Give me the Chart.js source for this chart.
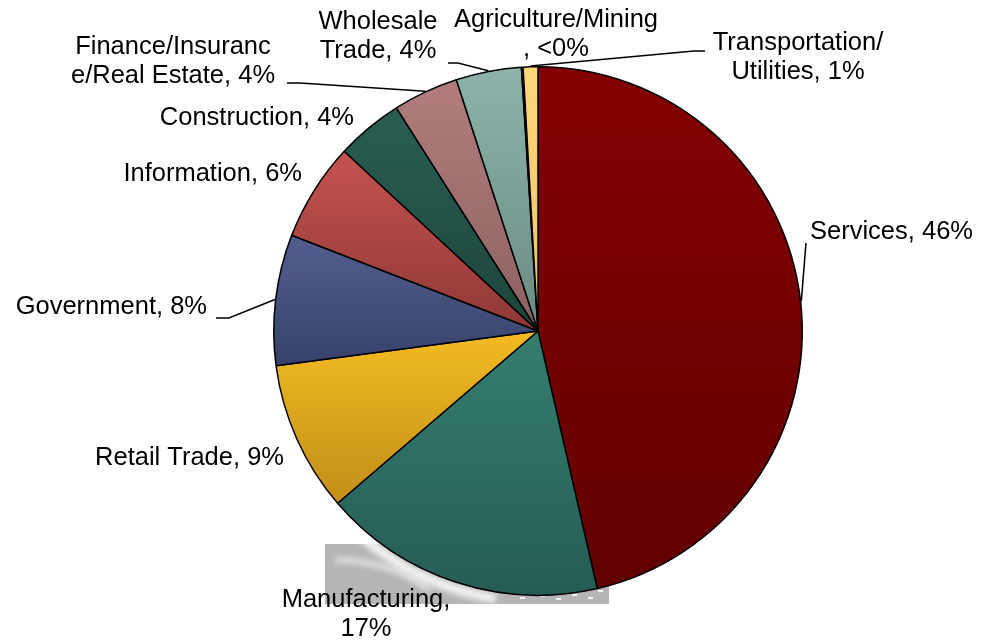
<!DOCTYPE html>
<html>
<head>
<meta charset="utf-8">
<script src="https://cdn.jsdelivr.net/npm/chart.js@4.4.1/dist/chart.umd.min.js"></script>
<style>
    body { margin: 0; background: #fff; }
    #pie_canvas { display: block; }
</style>
</head>
<body>
<canvas id="pie_canvas" width="982" height="641"></canvas>
<script>
// share of employment by sector (clockwise from 12 o'clock)
const categories = ['Services', 'Manufacturing', 'Retail Trade', 'Government', 'Information',
    'Construction', 'Finance/Insurance/Real Estate', 'Wholesale Trade', 'Agriculture/Mining',
    'Transportation/Utilities'];
const shares = [46.4, 17.3, 9.2, 8.0, 6.0, 4.1, 4.0, 4.0, 0.1, 0.9];
const pct_labels = ['46%', '17%', '9%', '8%', '6%', '4%', '4%', '4%', '<0%', '1%'];

// gradient top / bottom per slice
const top_colors = ['#840000', '#357e70', '#f2bb22', '#525f8f', '#c5534f', '#2a5e53', '#b27d7d', '#8db4aa', '#9bbb59', '#ffd67c'];
const bottom_colors = ['#620000', '#255c53', '#c28e18', '#37416a', '#8f3836', '#1c443c', '#8b6161', '#6a8a82', '#7a9a40', '#f2c466'];

// label placement: wrap = char index for line break, lead = where the leader line starts
const label_layout = [
    {x: 810, y: 232, align: 'left', lead: [[806, 243]]},
    {x: 366, y: 600, align: 'center', wrap: 15},
    {x: 284, y: 458, align: 'right'},
    {x: 207, y: 307, align: 'right', lead: [[216, 318], [229, 318]]},
    {x: 302, y: 174, align: 'right'},
    {x: 354, y: 118, align: 'right'},
    {x: 173, y: 47, align: 'center', wrap: 16, lead: [[287, 83], [300, 83]]},
    {x: 378, y: 22, align: 'center', wrap: 10, lead: [[448, 63], [458, 63]]},
    {x: 556, y: 20, align: 'center', wrap: 18},
    {x: 798, y: 43, align: 'center', wrap: 15, lead: [[705, 51], [694, 51]]}
];

function pie_geometry(chart) {
    const a = chart.chartArea;
    return {cx: (a.left + a.right) / 2, cy: (a.top + a.bottom) / 2,
        r: Math.min(a.right - a.left, a.bottom - a.top) / 2};
}

function slice_angles(i) {
    const total = shares.reduce((s, v) => s + v, 0);
    let start = 0;
    for (let k = 0; k < i; k++) start += shares[k];
    const a0 = -Math.PI / 2 + start / total * 2 * Math.PI;
    const a1 = a0 + shares[i] / total * 2 * Math.PI;
    return [a0, a1];
}

function slice_gradient(context) {
    const chart = context.chart;
    const i = context.dataIndex;
    if (!chart.chartArea || i === undefined) return top_colors[i || 0];
    const g = pie_geometry(chart);
    const [a0, a1] = slice_angles(i);
    let ys = [g.cy, g.cy + g.r * Math.sin(a0), g.cy + g.r * Math.sin(a1)];
    // include top / bottom extremes if the slice spans them
    [-Math.PI / 2, Math.PI / 2, 3 * Math.PI / 2].forEach(function (t) {
        if (t > a0 && t < a1) ys.push(g.cy + g.r * Math.sin(t));
    });
    const y0 = Math.min(...ys), y1 = Math.max(...ys);
    const grad = chart.ctx.createLinearGradient(0, y0, 0, y1 + 0.01);
    grad.addColorStop(0, top_colors[i]);
    grad.addColorStop(1, bottom_colors[i]);
    return grad;
}

const backdrop_plugin = {
    id: 'backdrop',
    beforeDatasetsDraw: (chart) => {
        const ctx = chart.ctx;
        const g = pie_geometry(chart);
        ctx.save();
        // grey scrap of picture behind the bottom of the pie
        ctx.fillStyle = '#b5b5b5';
        ctx.fillRect(325, 544, 284, 60);
        ctx.strokeStyle = 'rgba(255,255,255,0.9)';
        ctx.lineWidth = 9;
        ctx.filter = 'blur(3px)';
        ctx.beginPath();
        ctx.arc(g.cx, g.cy, g.r + 6, Math.PI * 0.55, Math.PI * 0.78);
        ctx.stroke();
        ctx.lineWidth = 4;
        ctx.beginPath();
        ctx.moveTo(335, 560);
        ctx.quadraticCurveTo(390, 560, 430, 590);
        ctx.stroke();
        ctx.filter = 'none';
        ctx.fillStyle = 'rgba(255,255,255,0.85)';
        [[520, 597], [540, 595], [556, 598], [572, 594], [588, 597], [598, 590]].forEach(function (p) {
            ctx.fillRect(p[0], p[1], 5, 2);
        });
        ctx.restore();
    }
};

const labels_plugin = {
    id: 'outside_labels',
    afterDatasetsDraw: (chart) => {
        const ctx = chart.ctx;
        const g = pie_geometry(chart);
        ctx.save();
        ctx.font = '25.5px "Liberation Sans", Arial, sans-serif';
        ctx.fillStyle = '#000';
        ctx.textBaseline = 'middle';
        ctx.strokeStyle = '#000';
        ctx.lineWidth = 1.5;
        for (let i = 0; i < categories.length; i++) {
            const lay = label_layout[i];
            const text = categories[i] + ', ' + pct_labels[i];
            const lines = lay.wrap ? [text.slice(0, lay.wrap), text.slice(lay.wrap)] : [text];
            ctx.textAlign = lay.align;
            lines.forEach(function (line, k) {
                ctx.fillText(line.trim(), lay.x, lay.y + k * 29);
            });
            if (lay.lead) {
                const [a0, a1] = slice_angles(i);
                const mid = (a0 + a1) / 2;
                ctx.beginPath();
                ctx.moveTo(lay.lead[0][0], lay.lead[0][1]);
                for (let p = 1; p < lay.lead.length; p++) ctx.lineTo(lay.lead[p][0], lay.lead[p][1]);
                ctx.lineTo(g.cx + g.r * Math.cos(mid), g.cy + g.r * Math.sin(mid));
                ctx.stroke();
            }
        }
        ctx.restore();
    }
};

new Chart(document.getElementById('pie_canvas'), {
    type: 'pie',
    data: {
        labels: categories,
        datasets: [{
            data: shares,
            backgroundColor: slice_gradient,
            borderColor: '#000',
            borderWidth: 1.5,
            hoverOffset: 0
        }]
    },
    options: {
        responsive: false,
        animation: false,
        events: [],
        layout: {padding: {left: 273, right: 179, top: 66, bottom: 45}},
        plugins: {
            legend: {display: false},
            tooltip: {enabled: false}
        }
    },
    plugins: [backdrop_plugin, labels_plugin]
});
</script>
</body>
</html>
